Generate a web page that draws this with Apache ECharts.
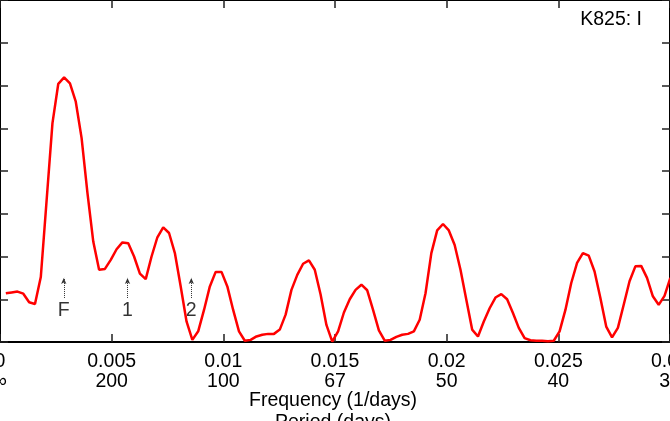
<!DOCTYPE html>
<html><head><meta charset="utf-8">
<script src="https://cdn.jsdelivr.net/npm/echarts@6/dist/echarts.min.js"></script>
<style>html,body{margin:0;padding:0;background:#fff;overflow:hidden}#chart{width:670px;height:421px}</style>
</head><body><div id="chart"></div>
<script>
// ---- data ----
const freqTickLabels = ['0', '0.005', '0.01', '0.015', '0.02', '0.025', '0.03'];
const periodTickLabels = ['\u221e', '200', '100', '67', '50', '40', '33'];
const frequency = [
  0.000261, 0.000522, 0.000783, 0.001044, 0.001305, 0.001566, 0.001827, 0.002088, 0.002349, 0.00261,
  0.002871, 0.003132, 0.003393, 0.003654, 0.003915, 0.004176, 0.004437, 0.004698, 0.004959, 0.00522,
  0.005481, 0.005742, 0.006003, 0.006264, 0.006525, 0.006786, 0.007047, 0.007308, 0.007569, 0.00783,
  0.008091, 0.008352, 0.008613, 0.008874, 0.009135, 0.009396, 0.009657, 0.009918, 0.010179, 0.01044,
  0.010701, 0.010962, 0.011223, 0.011484, 0.011745, 0.012006, 0.012267, 0.012528, 0.012789, 0.01305,
  0.013311, 0.013572, 0.013833, 0.014094, 0.014355, 0.014616, 0.014877, 0.015138, 0.015399, 0.01566,
  0.015921, 0.016182, 0.016443, 0.016704, 0.016965, 0.017226, 0.017487, 0.017748, 0.018009, 0.01827,
  0.018531, 0.018792, 0.019053, 0.019314, 0.019575, 0.019836, 0.020097, 0.020358, 0.020619, 0.02088,
  0.021141, 0.021402, 0.021663, 0.021924, 0.022185, 0.022446, 0.022707, 0.022968, 0.023229, 0.02349,
  0.023751, 0.024012, 0.024273, 0.024534, 0.024795, 0.025056, 0.025317, 0.025578, 0.025839, 0.0261,
  0.026361, 0.026622, 0.026883, 0.027144, 0.027405, 0.027666, 0.027927, 0.028188, 0.028449, 0.02871,
  0.028971, 0.029232, 0.029493, 0.029754, 0.030015
];
const power = [
  1.14, 1.16, 1.18, 1.13, 0.93, 0.89, 1.52, 3.32, 5.12, 6.04,
  6.19, 6.05, 5.62, 4.77, 3.49, 2.35, 1.69, 1.71, 1.92, 2.17,
  2.33, 2.31, 2.00, 1.60, 1.47, 2.00, 2.45, 2.68, 2.55, 2.08,
  1.30, 0.48, 0.05, 0.25, 0.75, 1.30, 1.64, 1.64, 1.30, 0.75,
  0.25, 0.03, 0.05, 0.13, 0.17, 0.19, 0.19, 0.29, 0.64, 1.22,
  1.57, 1.83, 1.91, 1.69, 1.11, 0.40, 0.01, 0.25, 0.69, 1.00,
  1.22, 1.34, 1.21, 0.75, 0.27, 0.03, 0.05, 0.12, 0.17, 0.19,
  0.25, 0.52, 1.14, 2.08, 2.61, 2.76, 2.61, 2.27, 1.69, 0.99,
  0.29, 0.13, 0.48, 0.79, 1.04, 1.12, 1.00, 0.68, 0.33, 0.09,
  0.04, 0.03, 0.03, 0.02, 0.03, 0.25, 0.75, 1.38, 1.85, 2.08,
  2.02, 1.65, 1.03, 0.36, 0.11, 0.33, 0.87, 1.42, 1.77, 1.78,
  1.50, 1.07, 0.87, 1.08, 1.50
];
const modeNames = ['F', '1', '2'];
const modeFreqs = [0.002855, 0.00571, 0.008565];
const panelTitle = 'K825: I';
const xAxisTitle = 'Frequency (1/days)';
const x2AxisTitle = 'Period (days)';

// ---- chart ----
const FONT = '"Liberation Sans", Arial, Helvetica, sans-serif';
const chart = echarts.init(document.getElementById('chart'), null, { renderer: 'canvas' });
const tickFormatter = v => {
  const i = Math.round(v / 0.005);
  return '{f|' + freqTickLabels[i] + '}\n{p|' + periodTickLabels[i] + '}';
};
const frameLine = { show: true, onZero: false, lineStyle: { color: '#000', width: 2 } };
const innerTick = { show: true, inside: true, length: 8, lineStyle: { color: '#222', width: 1.5 } };
const markerLabelY = 0.74, markerLineLow = 1.03, markerLineHigh = 1.5;

chart.setOption({
  animation: false,
  grid: { left: 0, right: 0, top: 0, bottom: 79, containLabel: false, outerBoundsMode: 'none' },
  xAxis: [
    {
      type: 'value', min: 0, max: 0.03, interval: 0.005, position: 'bottom',
      axisLine: frameLine, axisTick: innerTick, splitLine: { show: false },
      axisLabel: {
        show: true, margin: 10, formatter: tickFormatter, showMinLabel: true, showMaxLabel: true, hideOverlap: false,
        rich: {
          f: { fontSize: 19.5, lineHeight: 20, fontFamily: FONT, color: '#000', align: 'center' },
          p: { fontSize: 19.5, lineHeight: 20, fontFamily: FONT, color: '#000', align: 'center' }
        }
      }
    },
    {
      type: 'value', min: 0, max: 0.03, interval: 0.005, position: 'top',
      axisLine: frameLine, axisTick: innerTick, splitLine: { show: false }, axisLabel: { show: false }
    }
  ],
  yAxis: [
    {
      type: 'value', min: 0, max: 8, interval: 1, position: 'left',
      axisLine: frameLine, axisTick: innerTick, splitLine: { show: false }, axisLabel: { show: false }
    },
    {
      type: 'value', min: 0, max: 8, interval: 1, position: 'right',
      axisLine: frameLine, axisTick: innerTick, splitLine: { show: false }, axisLabel: { show: false }
    }
  ],
  series: [
    {
      type: 'line', xAxisIndex: 0, yAxisIndex: 0,
      data: frequency.map((f, i) => [f, power[i]]),
      symbol: 'none', showSymbol: false, clip: true, z: 3,
      lineStyle: { color: '#ff0000', width: 2.5 }
    },
    {
      type: 'scatter', xAxisIndex: 0, yAxisIndex: 0, symbolSize: 1,
      itemStyle: { color: 'rgba(0,0,0,0)' },
      data: modeNames.map((n, i) => ({ name: n, value: [modeFreqs[i], markerLabelY] })),
      label: { show: true, position: 'inside', formatter: '{b}', fontSize: 19.5, fontFamily: FONT, color: '#000' },
      markLine: {
        silent: true, symbol: ['none', 'arrow'], symbolSize: [4, 6], animation: false,
        label: { show: false },
        lineStyle: { type: 'dotted', color: '#333', width: 1 },
        data: modeFreqs.map(f => [{ coord: [f, markerLineLow] }, { coord: [f, markerLineHigh] }])
      }
    }
  ],
  graphic: [
    { type: 'text', style: { text: panelTitle, x: 642, y: 20, textAlign: 'right', textVerticalAlign: 'middle', font: '19.5px ' + FONT, fill: '#000' } },
    { type: 'text', style: { text: xAxisTitle, x: 333, y: 401, textAlign: 'center', textVerticalAlign: 'middle', font: '19.5px ' + FONT, fill: '#000' } },
    { type: 'text', style: { text: x2AxisTitle, x: 333, y: 423, textAlign: 'center', textVerticalAlign: 'middle', font: '19.5px ' + FONT, fill: '#000' } }
  ]
});
</script>
</body></html>
